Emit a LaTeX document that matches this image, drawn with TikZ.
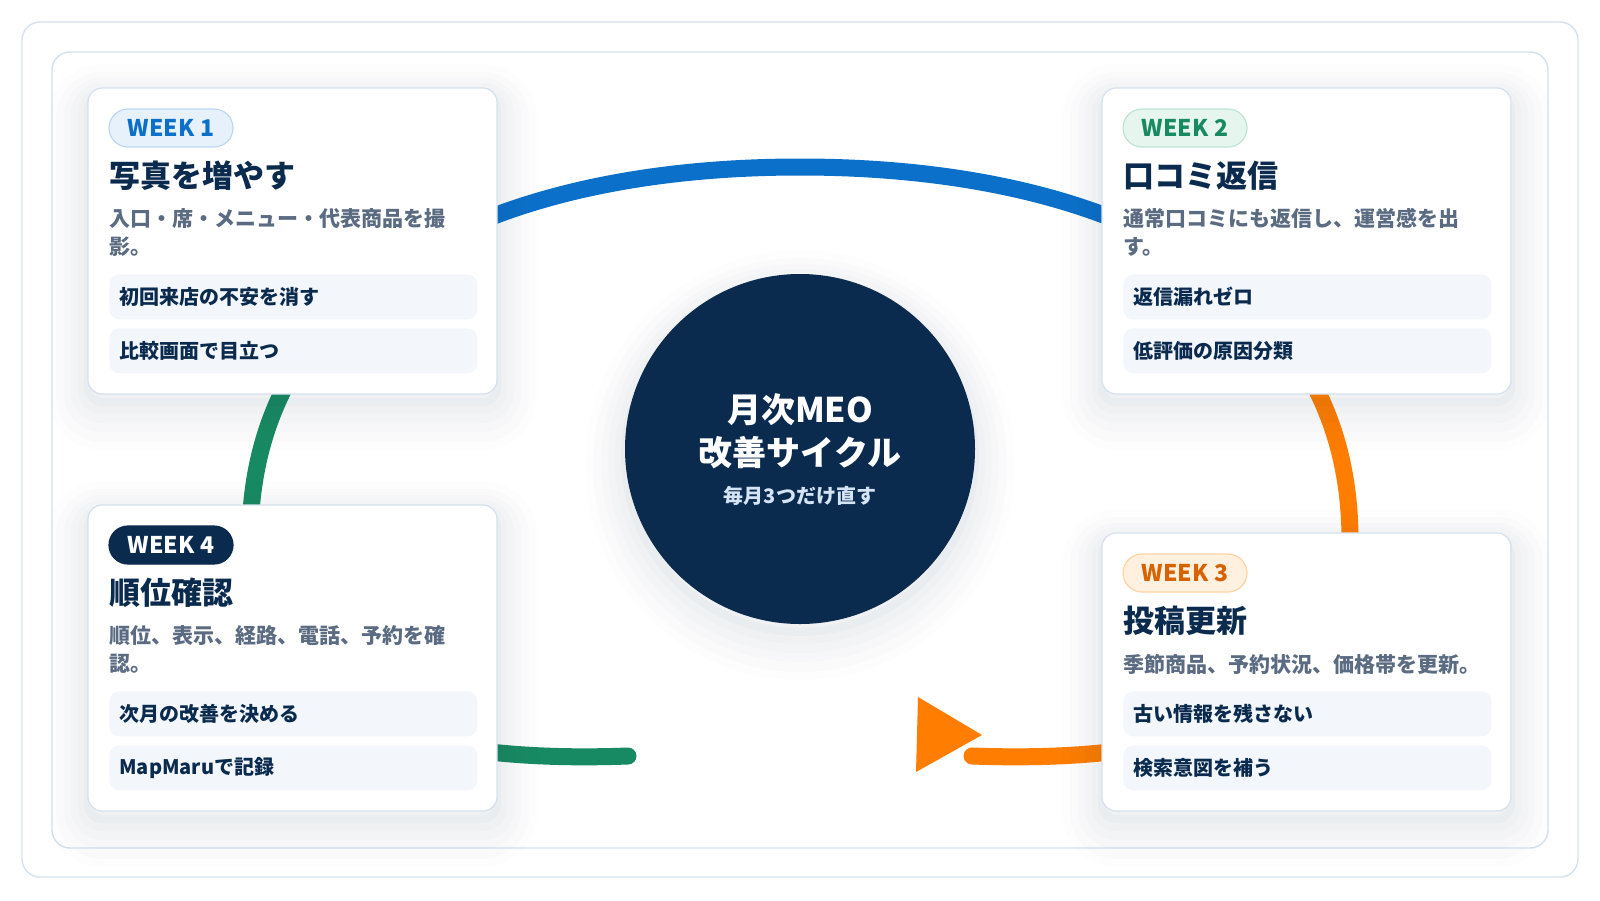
\documentclass[tikz,border=0pt]{standalone}
\usepackage{fontspec}
\setmainfont{Noto Sans CJK JP}
\definecolor{mmNavy}{HTML}{0A2A4E}
\definecolor{mmBlue}{HTML}{0B70CA}
\definecolor{mmGreen}{HTML}{178A63}
\definecolor{mmOrange}{HTML}{FF7D00}
\definecolor{mmSlate}{HTML}{5B6B82}
\definecolor{mmLine}{HTML}{D5E1EE}
\definecolor{mmTile}{HTML}{F3F6FB}
\definecolor{mmShade}{HTML}{1E3A5F}
\definecolor{wkBlueFill}{HTML}{E7F1FC}
\definecolor{wkBlueLine}{HTML}{BED8F2}
\definecolor{wkGreenFill}{HTML}{E6F5EE}
\definecolor{wkGreenLine}{HTML}{BEE5D2}
\definecolor{wkOrangeFill}{HTML}{FFF0DF}
\definecolor{wkOrangeLine}{HTML}{FFD3A3}
\definecolor{wkOrangeText}{HTML}{D66300}
\definecolor{hubSub}{HTML}{D4E4F4}

\begin{document}
\begin{tikzpicture}[x=0.5pt,y=-0.5pt,font=\bfseries,
  softshadow/.style={
    preaction={draw=mmShade,draw opacity=.008,line width=40pt,transform canvas={yshift=-8pt}},
    preaction={draw=mmShade,draw opacity=.01,line width=32pt,transform canvas={yshift=-8pt}},
    preaction={draw=mmShade,draw opacity=.012,line width=24pt,transform canvas={yshift=-7pt}},
    preaction={draw=mmShade,draw opacity=.014,line width=17pt,transform canvas={yshift=-6pt}},
    preaction={draw=mmShade,draw opacity=.016,line width=10pt,transform canvas={yshift=-5pt}},
    preaction={draw=mmShade,draw opacity=.018,line width=4pt,transform canvas={yshift=-4pt}}},
  frame/.style={draw=mmLine,line width=0.7pt,fill=white,rounded corners=9pt},
  card/.style={softshadow,draw=mmLine,line width=0.6pt,fill=white,rounded corners=7pt},
  ring/.style={line width=8.5pt,line cap=round},
  badge/.style={rounded corners=9.5pt,line width=0.6pt,minimum width=62pt,minimum height=19pt,
    inner sep=0pt,font=\fontsize{11.5}{12}\selectfont\bfseries},
  heading/.style={anchor=base west,inner sep=0pt,text=mmNavy,font=\fontsize{15.5}{18}\selectfont\bfseries},
  note/.style={anchor=base west,inner sep=0pt,text=mmSlate,font=\fontsize{10.5}{14}\selectfont\bfseries},
  tile/.style={anchor=north west,fill=mmTile,rounded corners=5pt,text width=174pt,inner xsep=5pt,
    inner ysep=0pt,minimum height=22.5pt,align=left,text=mmNavy,font=\fontsize{10}{12}\selectfont\bfseries},
  hub/.style={circle,softshadow,fill=mmNavy,minimum size=175pt,inner sep=0pt}]
  \useasboundingbox (0,0) rectangle (1600,900);
  % frames
  \draw[frame] (22,22) rectangle (1578,877);
  \draw[frame] (52,52) rectangle (1548,848);
  % ring, drawn under the cards
  \coordinate (ringTL) at (332,320);
  \coordinate (ringTR) at (1268,320);
  \coordinate (ringTop) at (800,167);
  \coordinate (greenEnd) at (628,756);
  \coordinate (orangeEnd) at (972,756);
  \draw[ring,mmBlue] (ringTL) .. controls (429,215) and (602,167) .. (ringTop)
    .. controls (998,167) and (1171,215) .. (ringTR);
  \draw[ring,mmGreen] (ringTL) .. controls (280,376) and (250,449) .. (250,540)
    .. controls (250,700) and (380,765) .. (greenEnd);
  \draw[ring,mmOrange] (ringTR) .. controls (1320,376) and (1350,449) .. (1350,540)
    .. controls (1350,700) and (1220,765) .. (orangeEnd);

  % week 1
  \draw[card] (88,88) rectangle (497,394);
  \node[badge,fill=wkBlueFill,draw=wkBlueLine,text=mmBlue] (wk1) at (171,128) {WEEK 1};
  \node[heading] (hd1) at (109,187) {写真を増やす};
  \node[note] (nt1a) at (109,226) {入口・席・メニュー・代表商品を撮};
  \node[note] (nt1b) at (109,254) {影。};
  \node[tile] (tl1a) at (109,274) {初回来店の不安を消す};
  \node[tile] (tl1b) at (109,328) {比較画面で目立つ};

  % week 2
  \draw[card] (1102,88) rectangle (1511,394);
  \node[badge,fill=wkGreenFill,draw=wkGreenLine,text=mmGreen] (wk2) at (1185,128) {WEEK 2};
  \node[heading] (hd2) at (1123,187) {口コミ返信};
  \node[note] (nt2a) at (1123,226) {通常口コミにも返信し、運営感を出};
  \node[note] (nt2b) at (1123,254) {す。};
  \node[tile] (tl2a) at (1123,274) {返信漏れゼロ};
  \node[tile] (tl2b) at (1123,328) {低評価の原因分類};

  % week 3
  \draw[card] (1102,533) rectangle (1511,811);
  \node[badge,fill=wkOrangeFill,draw=wkOrangeLine,text=wkOrangeText] (wk3) at (1185,573) {WEEK 3};
  \node[heading] (hd3) at (1123,632) {投稿更新};
  \node[note] (nt3a) at (1123,672) {季節商品、予約状況、価格帯を更新。};
  \node[tile] (tl3a) at (1123,691) {古い情報を残さない};
  \node[tile] (tl3b) at (1123,745) {検索意図を補う};

  % week 4
  \draw[card] (88,505) rectangle (497,811);
  \node[badge,fill=mmNavy,draw=mmNavy,text=white] (wk4) at (171,545) {WEEK 4};
  \node[heading] (hd4) at (109,604) {順位確認};
  \node[note] (nt4a) at (109,643) {順位、表示、経路、電話、予約を確};
  \node[note] (nt4b) at (109,671) {認。};
  \node[tile] (tl4a) at (109,691) {次月の改善を決める};
  \node[tile] (tl4b) at (109,745) {MapMaruで記録};

  % centre
  \node[hub] (hub) at (800,449) {};
  \node[anchor=base,inner sep=0pt,text=white,font=\fontsize{17}{20}\selectfont\bfseries] (hubA) at (800,422) {月次MEO};
  \node[anchor=base,inner sep=0pt,text=white,font=\fontsize{17}{20}\selectfont\bfseries] (hubB) at (800,465) {改善サイクル};
  \node[anchor=base,inner sep=0pt,text=hubSub,font=\fontsize{10}{12}\selectfont\bfseries] (hubC) at (800,503) {毎月3つだけ直す};

  % arrow tip
  \fill[mmOrange] (918,697) -- (982,735) -- (916,772) -- cycle;
\end{tikzpicture}
\end{document}
